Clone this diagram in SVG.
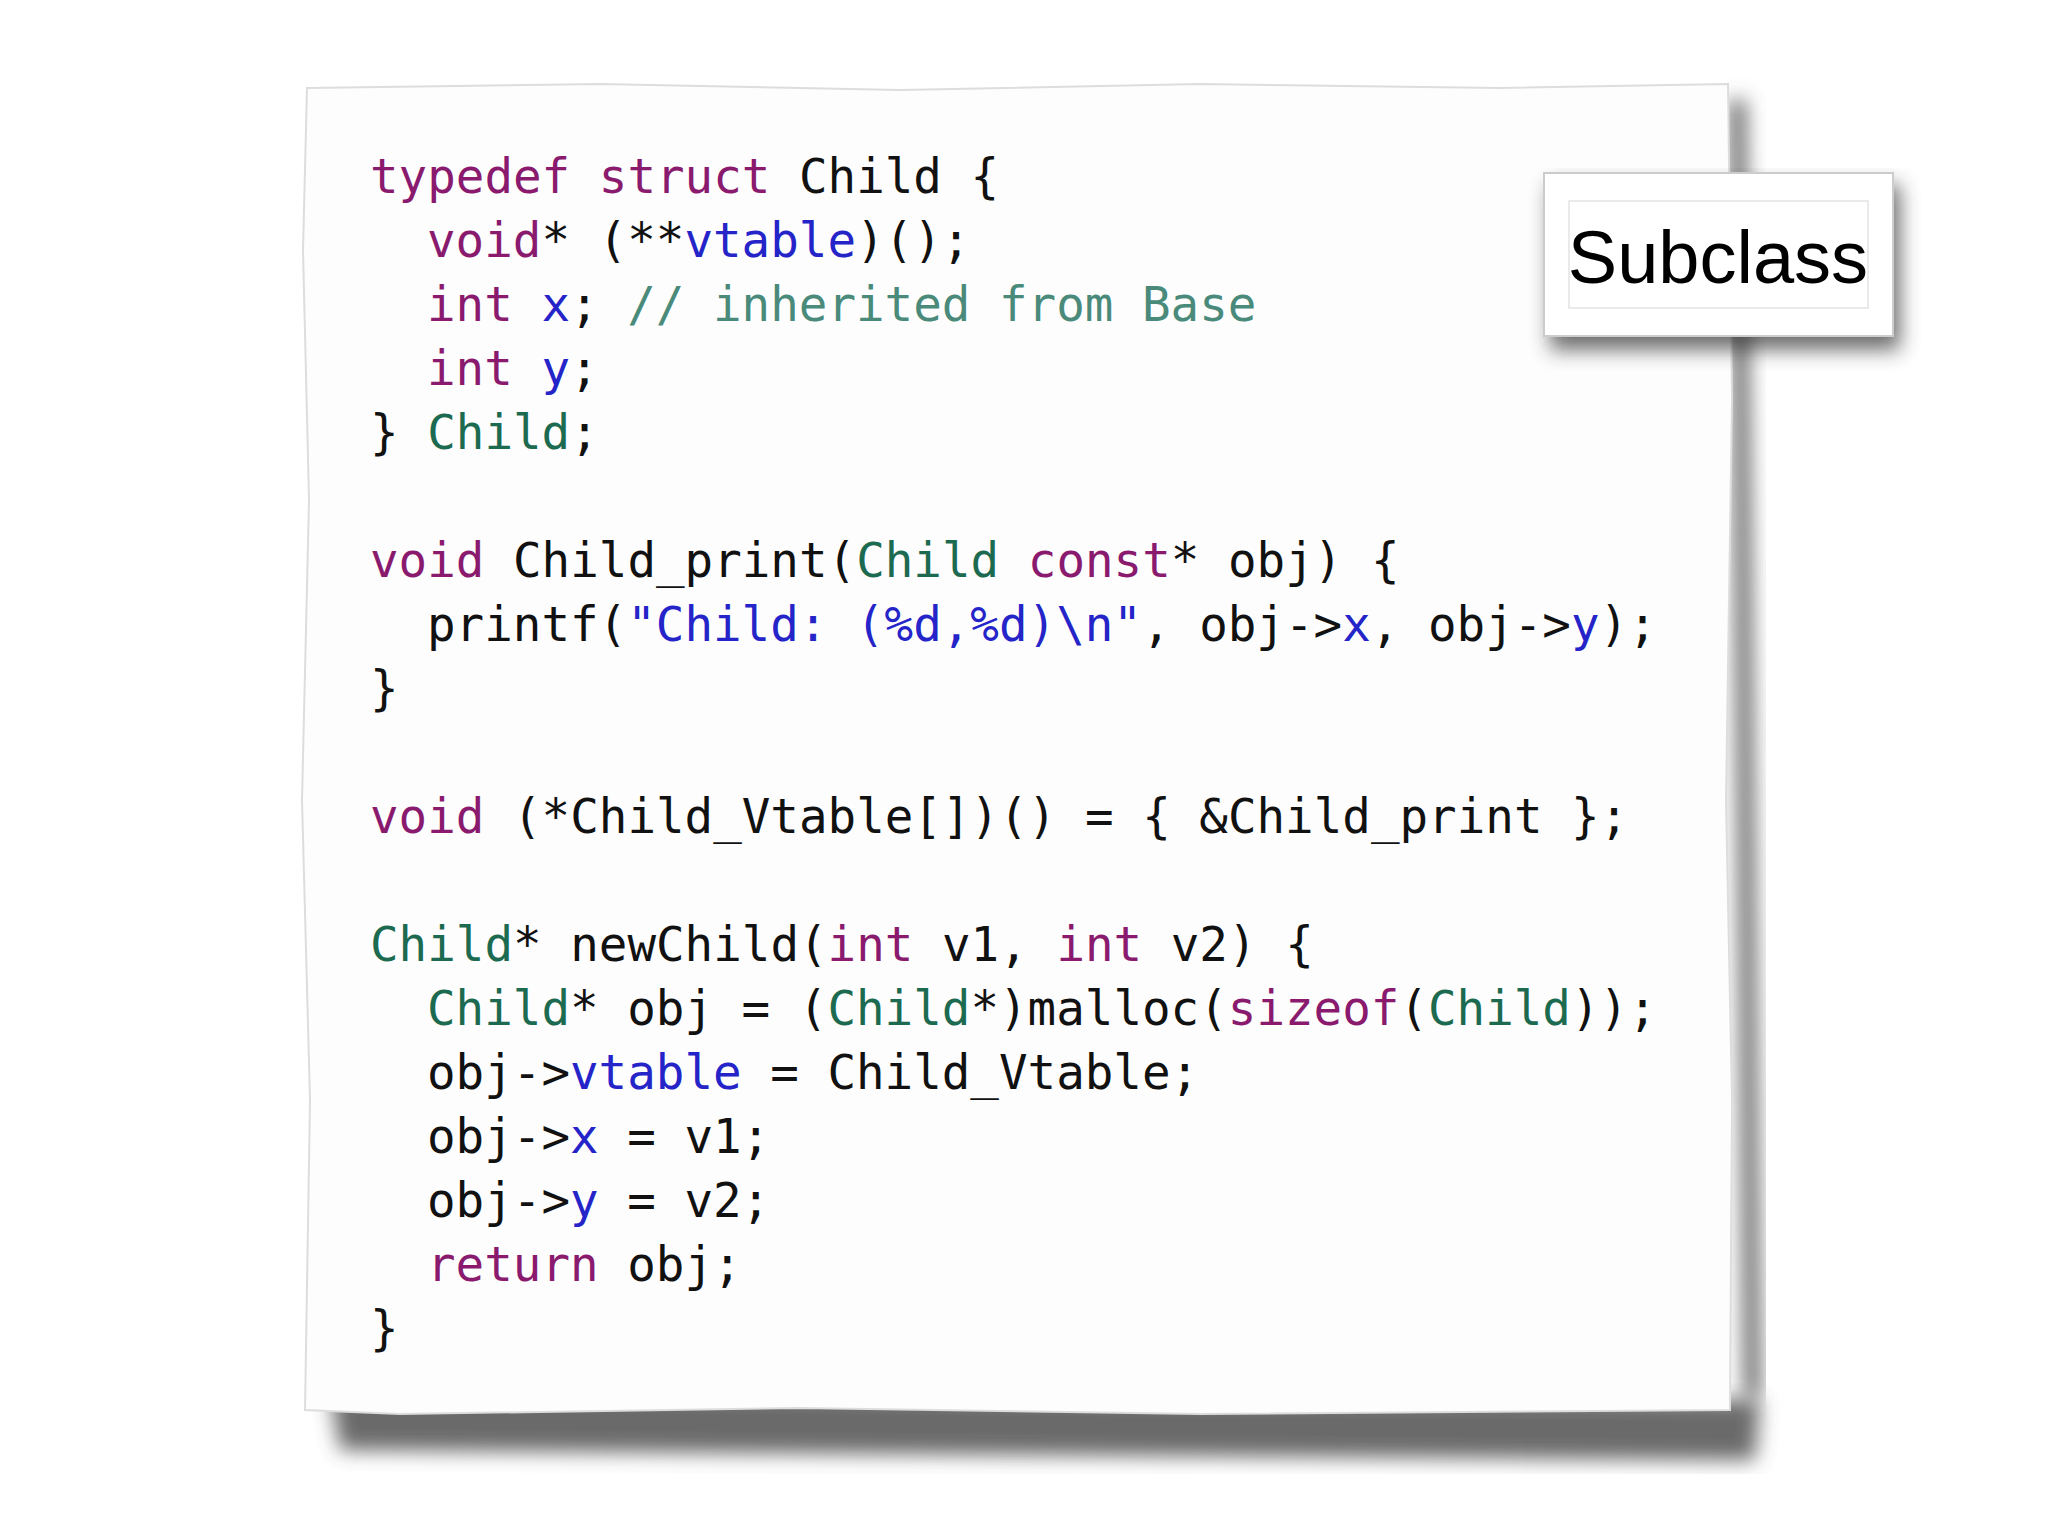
<svg xmlns="http://www.w3.org/2000/svg" width="2048" height="1536" viewBox="0 0 2048 1536">
<defs>
<filter id="sh" x="-10%" y="-10%" width="130%" height="130%"><feGaussianBlur stdDeviation="10"/></filter>
<style>
.c{font-family:"DejaVu Sans Mono","Liberation Mono",monospace;font-size:47.5px;fill:#111;white-space:pre}
.k{fill:#8a1a6e}.b{fill:#2424c8}.g{fill:#1c6a50}.m{fill:#4a8a7a}
</style>
</defs>
<rect width="2048" height="1536" fill="#fff"/>
<g id="paper">
<path d="M330,1390 L1760,1400 L1755,1460 L340,1450 Z" fill="#444" filter="url(#sh)" opacity="0.8"/>
<path d="M1730,100 L1745,1400 L1760,1395 L1745,100 Z" fill="#555" filter="url(#sh)"/>
<path d="M307,88 L600,84 L900,90 L1200,84 L1500,88 L1728,84 L1732,400 L1726,800 L1732,1100 L1730,1410 L1200,1414 L800,1408 L400,1414 L305,1410 L310,1100 L302,800 L309,500 L303,250 Z" fill="#fdfdfd" stroke="#ddd" stroke-width="2"/>
</g>
<g id="code">
<text class="c" x="370" y="193"><tspan class="k">typedef struct</tspan> Child {</text>
<text class="c" x="427" y="257"><tspan class="k">void</tspan>* (**<tspan class="b">vtable</tspan>)();</text>
<text class="c" x="427" y="321"><tspan class="k">int</tspan> <tspan class="b">x</tspan>; <tspan class="m">// inherited from Base</tspan></text>
<text class="c" x="427" y="385"><tspan class="k">int</tspan> <tspan class="b">y</tspan>;</text>
<text class="c" x="370" y="449">} <tspan class="g">Child</tspan>;</text>
<text class="c" x="370" y="577"><tspan class="k">void</tspan> Child_print(<tspan class="g">Child</tspan> <tspan class="k">const</tspan>* obj) {</text>
<text class="c" x="427" y="641">printf(<tspan class="b">"Child: (%d,%d)\n"</tspan>, obj-&gt;<tspan class="b">x</tspan>, obj-&gt;<tspan class="b">y</tspan>);</text>
<text class="c" x="370" y="705">}</text>
<text class="c" x="370" y="833"><tspan class="k">void</tspan> (*Child_Vtable[])() = { &amp;Child_print };</text>
<text class="c" x="370" y="961"><tspan class="g">Child</tspan>* newChild(<tspan class="k">int</tspan> v1, <tspan class="k">int</tspan> v2) {</text>
<text class="c" x="427" y="1025"><tspan class="g">Child</tspan>* obj = (<tspan class="g">Child</tspan>*)malloc(<tspan class="k">sizeof</tspan>(<tspan class="g">Child</tspan>));</text>
<text class="c" x="427" y="1089">obj-&gt;<tspan class="b">vtable</tspan> = Child_Vtable;</text>
<text class="c" x="427" y="1153">obj-&gt;<tspan class="b">x</tspan> = v1;</text>
<text class="c" x="427" y="1217">obj-&gt;<tspan class="b">y</tspan> = v2;</text>
<text class="c" x="427" y="1281"><tspan class="k">return</tspan> obj;</text>
<text class="c" x="370" y="1345">}</text>
</g>
<g id="label">
<rect x="1550" y="185" width="350" height="165" fill="#333" filter="url(#sh)" opacity="0.7"/>
<rect x="1544" y="173" width="349" height="163" fill="#fff" stroke="#ccc" stroke-width="2"/>
<rect x="1569" y="201" width="299" height="107" fill="none" stroke="#e4e4e4" stroke-width="1.5"/>
<text x="1718" y="283" text-anchor="middle" font-family="'Liberation Sans',sans-serif" font-size="74" fill="#000">Subclass</text>
</g>
</svg>
